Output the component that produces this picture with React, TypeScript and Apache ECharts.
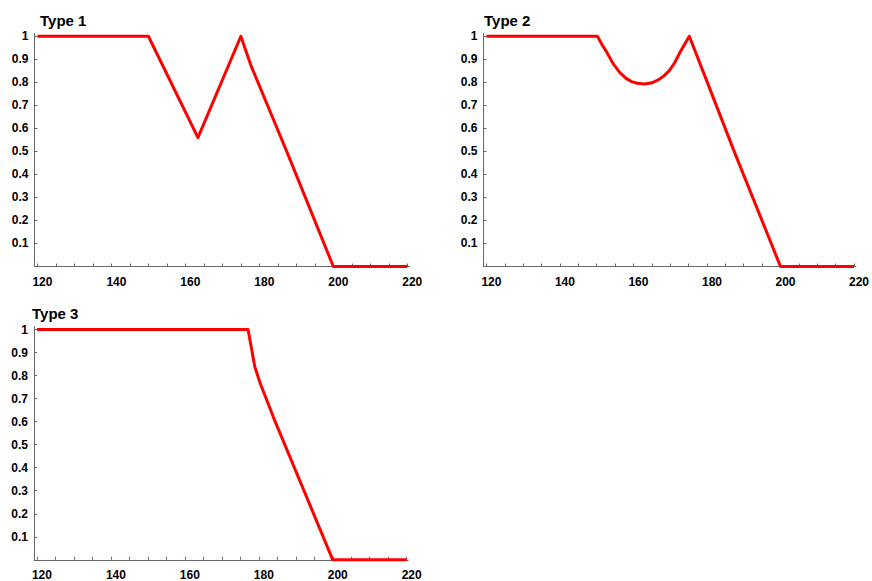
import React, { useEffect, useRef } from "react";
import * as echarts from "echarts";

const type1X = [120, 150, 163.4, 175, 177.8, 187.4, 200, 220];
const type1Y = [1, 1, 0.56, 1, 0.87, 0.5, 0, 0];

const type2X = [120, 150.2, 151.5, 152.7, 154.5, 156.3, 158, 159.5, 161, 163.1, 165, 166.6, 168.3, 169.8, 171.2, 172.5, 173.8, 175.2, 179.7, 187.4, 200, 220];
const type2Y = [1, 1, 0.962, 0.932, 0.88, 0.842, 0.817, 0.803, 0.796, 0.793, 0.798, 0.809, 0.828, 0.852, 0.885, 0.925, 0.962, 1, 0.816, 0.5, 0, 0];

const type3X = [120, 177.1, 178, 178.9, 180.3, 183.9, 200, 220];
const type3Y = [1, 1, 0.92, 0.84, 0.77, 0.621, 0, 0];

const titles = ["Type 1", "Type 2", "Type 3"];
const xTickLabels = [120, 140, 160, 180, 200, 220];
const xTicks = [120, 125, 130, 135, 140, 145, 150, 155, 160, 165, 170, 175, 180, 185, 190, 195, 200, 205, 210, 215, 220];
const yTickLabels = [0.1, 0.2, 0.3, 0.4, 0.5, 0.6, 0.7, 0.8, 0.9, 1];

const FONT = "Liberation Sans, Arial, sans-serif";

export default function App() {
  const ref = useRef<HTMLDivElement>(null);
  useEffect(() => {
    if (!ref.current) return;
    const chart = echarts.init(ref.current, undefined, { renderer: "svg" });
    const grids = [
      { left: 34.5, top: 33.5, width: 375, height: 233 },
      { left: 483.5, top: 33.5, width: 375, height: 233 },
      { left: 34, top: 326.8, width: 374, height: 233 },
    ];
    const titlePos = [
      { left: 40, top: 13 },
      { left: 484, top: 13 },
      { left: 32, top: 306 },
    ];
    const xMax = [220.6, 220.5, 220.35];
    const axisColor = "#666";
    const xAxes = grids.map((_, i) => ({
      type: "value",
      gridIndex: i,
      min: 119.2,
      max: xMax[i],
      axisLine: { show: true, onZero: false, lineStyle: { color: axisColor, width: 1 } },
      axisTick: { show: true, inside: true, length: 3, customValues: xTicks, lineStyle: { color: axisColor } },
      axisLabel: {
        customValues: xTickLabels,
        fontWeight: "bold",
        fontSize: 12,
        color: "#000",
        fontFamily: FONT,
        margin: 9,
        padding: [0, 0, 0, 10],
      },
      splitLine: { show: false },
    }));
    const yAxes = grids.map((_, i) => ({
      type: "value",
      gridIndex: i,
      min: 0,
      max: 1.012,
      axisLine: { show: true, onZero: false, lineStyle: { color: axisColor, width: 1 } },
      axisTick: { show: true, inside: true, length: 3, customValues: yTickLabels, lineStyle: { color: axisColor } },
      axisLabel: {
        customValues: yTickLabels,
        fontWeight: "bold",
        fontSize: 12,
        color: "#000",
        fontFamily: FONT,
        margin: 6,
        formatter: (v: number) => String(Math.round(v * 10) / 10),
      },
      splitLine: { show: false },
    }));
    const sets = [
      [type1X, type1Y],
      [type2X, type2Y],
      [type3X, type3Y],
    ];
    chart.setOption({
      animation: false,
      backgroundColor: "#fff",
      title: titles.map((t, i) => ({
        text: t,
        left: titlePos[i].left,
        top: titlePos[i].top,
        padding: 0,
        textStyle: { fontFamily: FONT, fontWeight: "bold", fontSize: 15, color: "#000" },
      })),
      grid: grids,
      xAxis: xAxes,
      yAxis: yAxes,
      series: sets.map(([xs, ys], i) => ({
        type: "line",
        xAxisIndex: i,
        yAxisIndex: i,
        showSymbol: false,
        symbol: "none",
        data: xs.map((x, j) => [x, ys[j]]),
        lineStyle: { color: "#ff0000", width: 3, join: "round" },
        clip: false,
      })),
    });
    return () => chart.dispose();
  }, []);
  return (
    <div
      ref={ref}
      style={{ position: "fixed", left: 0, top: 0, width: 872, height: 581, background: "#fff" }}
    />
  );
}
